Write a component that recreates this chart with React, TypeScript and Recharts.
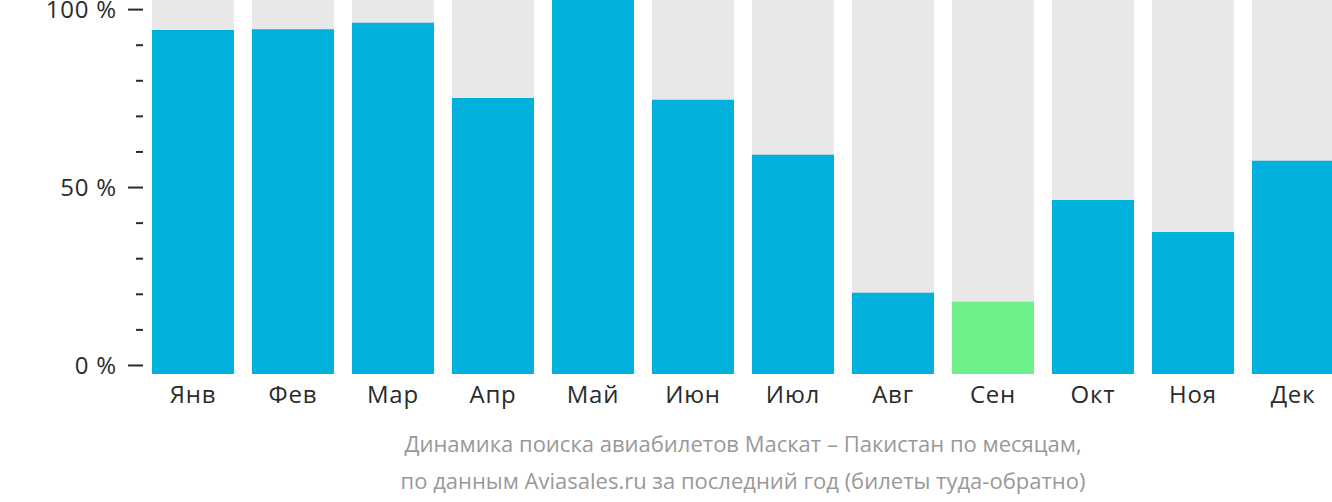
import React from "react";
import { Bar, BarChart, Cell, XAxis, YAxis } from "recharts";

const MONTHS = ["Янв", "Фев", "Мар", "Апр", "Май", "Июн", "Июл", "Авг", "Сен", "Окт", "Ноя", "Дек"];
const SHARE = [92.0, 92.2, 93.9, 73.8, 100, 73.3, 58.6, 21.7, 19.3, 46.5, 38.0, 57.0];
const HIGHLIGHT = ["", "", "", "", "", "", "", "", "Сен", "", "", ""];
const AXIS_TICKS = [0, 10, 20, 30, 40, 50, 60, 70, 80, 90, 100];
const AXIS_LABELS: Record<number, string> = { 0: "0 %", 50: "50 %", 100: "100 %" };

const BLUE = "#00b1dd";
const GREEN = "#6ef08a";
const GRAY = "#e8e8e8";
const INK = "#2b2b2b";
const FONT = "'Open Sans', sans-serif";

const data = MONTHS.map((m, i) => ({ name: m, value: SHARE[i] }));

function PercentTick(props: any) {
  const { x, y, payload } = props;
  const label = AXIS_LABELS[payload.value];
  const major = label !== undefined;
  return (
    <g>
      <line x1={x - (major ? 15 : 7)} x2={x} y1={y} y2={y} stroke={INK} strokeWidth={2} />
      {major && (
        <text
          x={x - 26}
          y={y}
          dy="0.35em"
          textAnchor="end"
          fontSize={24}
          letterSpacing={0.8}
          fill={INK}
          fontFamily={FONT}
        >
          {label}
        </text>
      )}
    </g>
  );
}

export default function App() {
  return (
    <div style={{ position: "absolute", left: 0, top: 0, width: 1332, height: 502, overflow: "hidden", background: "#fff" }}>
      <BarChart width={1343} height={420} data={data} margin={{ top: 0, right: 0, bottom: 16, left: 0 }} barCategoryGap={9}>
        <XAxis
          dataKey="name"
          height={30}
          axisLine={false}
          tickLine={false}
          tick={{ fontSize: 24, fill: INK, fontFamily: FONT, letterSpacing: 0.8 }}
          tickMargin={6}
          interval={0}
        />
        <YAxis
          yAxisId="scale"
          width={143}
          domain={[-2.4, 102.7]}
          allowDataOverflow
          ticks={AXIS_TICKS}
          axisLine={false}
          tickLine={false}
          tickSize={0}
          tickMargin={0}
          tick={<PercentTick />}
          interval={0}
        />
        <YAxis yAxisId="bars" orientation="right" width={0} hide domain={[0, 100]} />
        <Bar yAxisId="bars" dataKey="value" background={{ fill: GRAY }} isAnimationActive={false}>
          {data.map((d, i) => (
            <Cell key={i} fill={HIGHLIGHT[i] ? GREEN : BLUE} />
          ))}
        </Bar>
      </BarChart>
      <div
        style={{
          position: "absolute",
          left: 143,
          width: 1200,
          top: 425,
          textAlign: "center",
          fontFamily: FONT,
          fontSize: 22,
          lineHeight: "37px",
          color: "#999",
        }}
      >
        Динамика поиска авиабилетов Маскат – Пакистан по месяцам,
        <br />
        по данным Aviasales.ru за последний год (билеты туда-обратно)
      </div>
    </div>
  );
}
